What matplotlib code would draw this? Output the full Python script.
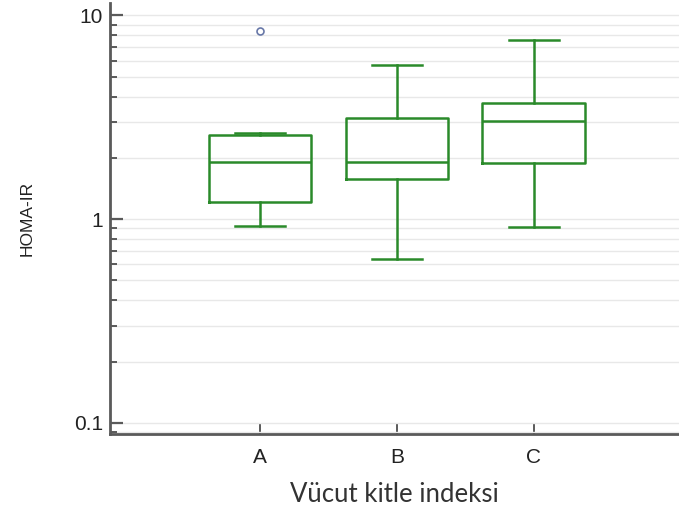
import matplotlib
matplotlib.use('Agg')
import matplotlib.pyplot as plt
from matplotlib.ticker import LogLocator, FixedLocator, NullFormatter
import numpy as np

plt.rcParams['font.family'] = ['Liberation Sans', 'DejaVu Sans']

groups = ['A', 'B', 'C']
q1 = [1.22, 1.58, 1.88]
med = [1.91, 1.90, 3.02]
q3 = [2.59, 3.15, 3.70]
whislo = [0.93, 0.635, 0.915]
whishi = [2.64, 5.71, 7.58]
fliers = [[8.42], [], []]

green = '#2a8a2a'
spine_col = '#5a5a5a'

fig = plt.figure(figsize=(6.79, 5.15), dpi=100)
ax = fig.add_axes([0.162, 0.157, 0.838, 0.837])

stats = []
for i in range(len(groups)):
	stats.append({'label': groups[i], 'q1': q1[i], 'med': med[i], 'q3': q3[i],
		'whislo': whislo[i], 'whishi': whishi[i], 'fliers': fliers[i]})

ax.bxp(stats, positions=[1, 2, 3], widths=0.75, showfliers=True,
	boxprops=dict(color=green, linewidth=1.8),
	medianprops=dict(color=green, linewidth=1.8),
	whiskerprops=dict(color=green, linewidth=1.8),
	capprops=dict(color=green, linewidth=1.8),
	capwidths=0.37,
	flierprops=dict(marker='o', markersize=5, markerfacecolor='none',
		markeredgecolor='#6878a8', markeredgewidth=1.2))

ax.set_yscale('log')
ax.set_ylim(0.088, 11.5)
ax.set_xlim(-0.095, 4.06)

ax.yaxis.set_major_locator(FixedLocator([0.1, 1, 10]))
ax.set_yticklabels(['0.1', '1', '10'])
ax.yaxis.set_minor_locator(LogLocator(base=10, subs=np.arange(2, 10)))
ax.yaxis.set_minor_formatter(NullFormatter())
ax.grid(True, axis='y', which='both', color='#e8e8e8', linewidth=1.0)
ax.set_axisbelow(True)

for s in ['top', 'right']:
	ax.spines[s].set_visible(False)
for s in ['left', 'bottom']:
	ax.spines[s].set_color(spine_col)
	ax.spines[s].set_linewidth(2)

ax.tick_params(axis='y', which='major', direction='in', length=9, width=1.6,
	color=spine_col, labelsize=15, pad=5, labelcolor='#222222')
ax.tick_params(axis='y', which='minor', direction='in', length=5, width=1.4,
	color=spine_col)
ax.tick_params(axis='x', direction='in', length=8, width=1.4, color=spine_col,
	labelsize=15, pad=10, labelcolor='#222222')

ax.set_ylabel('HOMA-IR', fontsize=12.5, labelpad=28, color='#222222')
ax.set_xlabel('Vücut kitle indeksi', fontsize=18.5, labelpad=11, color='#333333',
	family=['Lato', 'DejaVu Sans'])

fig.savefig('out.png', dpi=100)
